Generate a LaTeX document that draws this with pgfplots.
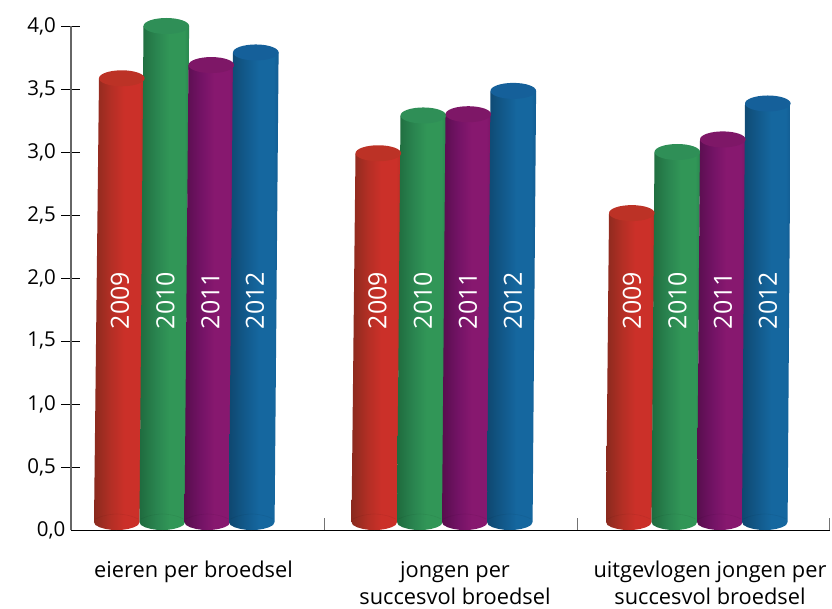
\documentclass[border=0pt]{standalone}
\usepackage{pgfplots}
\pgfplotsset{compat=1.18}
\usepackage{fontspec}
\setmainfont{Open Sans}
\definecolor{redtop}{HTML}{BC3226}
\definecolor{greentop}{HTML}{2F8F57}
\definecolor{purpletop}{HTML}{7E1767}
\definecolor{bluetop}{HTML}{15609A}
\definecolor{ra}{HTML}{8A2A1E}\definecolor{rb}{HTML}{B42F25}\definecolor{rc}{HTML}{CB3029}\definecolor{rd}{HTML}{BB2E26}
\definecolor{ga}{HTML}{1F6B3E}\definecolor{gb}{HTML}{2A8550}\definecolor{gc}{HTML}{319657}\definecolor{gd}{HTML}{2A8850}
\definecolor{pa}{HTML}{580E4E}\definecolor{pb}{HTML}{741366}\definecolor{pc}{HTML}{87186F}\definecolor{pd}{HTML}{7C1567}
\definecolor{ba}{HTML}{0F4870}\definecolor{bb}{HTML}{125A8C}\definecolor{bc}{HTML}{15679F}\definecolor{bd}{HTML}{135D92}
\pgfdeclarehorizontalshading{redbar}{100bp}{color(0bp)=(ra);color(25bp)=(ra);color(42bp)=(rb);color(55bp)=(rc);color(70bp)=(rc);color(75bp)=(rd);color(100bp)=(rd)}
\pgfdeclarehorizontalshading{greenbar}{100bp}{color(0bp)=(ga);color(25bp)=(ga);color(42bp)=(gb);color(55bp)=(gc);color(70bp)=(gc);color(75bp)=(gd);color(100bp)=(gd)}
\pgfdeclarehorizontalshading{purplebar}{100bp}{color(0bp)=(pa);color(25bp)=(pa);color(42bp)=(pb);color(55bp)=(pc);color(70bp)=(pc);color(75bp)=(pd);color(100bp)=(pd)}
\pgfdeclarehorizontalshading{bluebar}{100bp}{color(0bp)=(ba);color(25bp)=(ba);color(42bp)=(bb);color(55bp)=(bc);color(70bp)=(bc);color(75bp)=(bd);color(100bp)=(bd)}
\pgfdeclareplotmark{topell}{\pgfpathellipse{\pgfpointorigin}{\pgfqpoint{22.8pt}{0pt}}{\pgfqpoint{0pt}{8pt}}\pgfusepathqfill}
% #1 shading, #2 top colour, #3 bottom-left x, #4 top-left x, #5 value, #6 year
\newcommand{\cyl}[6]{%
  \addplot[draw=none,shade,shading=#1] coordinates {
    (#4,#5) (#3,0.0635)
    (#3+1.5,0.0395) (#3+5.7,0.0215) (#3+11.4,0.0085) (#3+17,0.002) (#3+22.8,0)
    (#3+28.6,0.002) (#3+34.2,0.0085) (#3+39.9,0.0215) (#3+44.1,0.0395) (#3+45.6,0.0635)
    (#4+45.6,#5)} -- cycle;
  \addplot[only marks,mark=topell,mark options={fill=#2,draw=none}] coordinates {(#4+22.8,#5)};
  \addplot[black,opacity=0.06,line width=0.6pt,no marks,smooth] coordinates {
    (#3+1.5,0.0875) (#3+7,0.106) (#3+14,0.120) (#3+22.8,0.127) (#3+31.6,0.120) (#3+38.6,0.106) (#3+44.1,0.0875)};
  \node[rotate=90,text=white,font=\fontsize{25}{25}\selectfont] at (axis cs:#3+26,1.82) {#6};
}
\begin{document}
\begin{tikzpicture}[x=1pt,y=1pt]
\path[use as bounding box] (-71,-78) rectangle (761,530);
\begin{axis}[
  at={(0pt,0pt)},anchor=origin,
  scale only axis,width=759pt,height=504pt,
  xmin=71,xmax=830,ymin=0,ymax=4,clip=false,
  axis lines=left,
  x axis line style={-,black,line width=1pt},
  y axis line style={-,black!60,line width=1.1pt},
  ytick={0.5,1,...,4},
  extra y ticks={0},
  extra y tick style={major tick length=0pt},
  /pgf/number format/fixed,
  /pgf/number format/fixed zerofill,
  /pgf/number format/precision=1,
  /pgf/number format/use comma,
  /pgf/number format/assume math mode=true,
  ticklabel style={font=\fontsize{20.5}{28}\selectfont,text=black},
  yticklabel style={xshift=-2pt},
  y tick style={black,line width=0.8pt},
  tick align=center,
  ytick pos=left,
  major tick length=19pt,
  xtick={193.5,455,710},
  xticklabels={eieren per broedsel,jongen per\\succesvol broedsel,uitgevlogen jongen per\\succesvol broedsel},
  x tick style={draw=none},
  xticklabel style={font=\fontsize{21.8}{27}\selectfont,align=center,anchor=north,yshift=-18pt,text=black},
]
\cyl{redbar}{redtop}{94}{99}{3.585}{2009}
\cyl{greenbar}{greentop}{139.5}{143.5}{4.0}{2010}
\cyl{purplebar}{purpletop}{184.5}{188.5}{3.69}{2011}
\cyl{bluebar}{bluetop}{229}{233}{3.79}{2012}
\cyl{redbar}{redtop}{351.5}{355.5}{2.99}{2009}
\cyl{greenbar}{greentop}{397}{400.5}{3.29}{2010}
\cyl{purplebar}{purpletop}{442}{445.5}{3.3}{2011}
\cyl{bluebar}{bluetop}{487}{490.5}{3.485}{2012}
\cyl{redbar}{redtop}{606}{609}{2.515}{2009}
\cyl{greenbar}{greentop}{651.5}{654.5}{3.0}{2010}
\cyl{purplebar}{purpletop}{697}{700}{3.1}{2011}
\cyl{bluebar}{bluetop}{742}{745}{3.385}{2012}
\draw[black!55,line width=1pt] (axis cs:324,0) -- (axis cs:324,0.095);
\draw[black!55,line width=1pt] (axis cs:577,0) -- (axis cs:577,0.095);
\draw[black!55,line width=1pt] (axis cs:829,0) -- (axis cs:829,0.095);
\end{axis}
\end{tikzpicture}
\end{document}
